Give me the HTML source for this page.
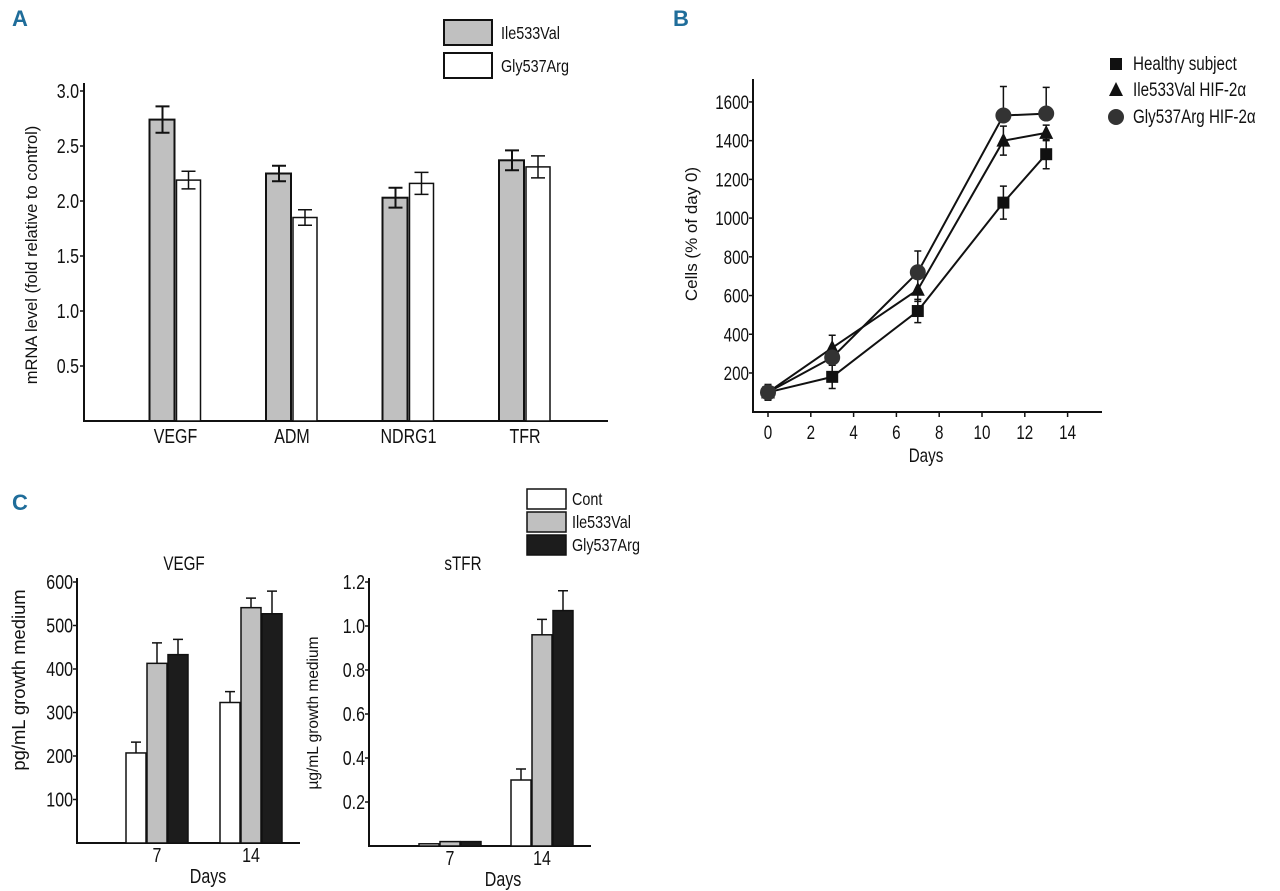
<!DOCTYPE html>
<html><head><meta charset="utf-8"><style>
html,body{margin:0;padding:0;background:#fff;overflow:hidden}
svg{display:block}
text{font-family:"Liberation Sans",sans-serif;fill:#111}
.pl{font-family:"Liberation Sans",sans-serif;font-weight:bold;fill:#1f6d9a;font-size:22px}
</style></head><body>
<svg id="fig" width="1280" height="891" viewBox="0 0 1280 891"></svg>
<script>
// Panel A data
const aCats = ["VEGF","ADM","NDRG1","TFR"];
const aIle = [2.74,2.25,2.03,2.37];
const aIleErr = [0.12,0.07,0.09,0.09];
const aGly = [2.19,1.85,2.16,2.31];
const aGlyErr = [0.08,0.07,0.10,0.10];
const aTicks = [0.5,1.0,1.5,2.0,2.5,3.0];
// Panel B data
const bDays = [0,3,7,11,13];
const bHealthy = [100,180,520,1080,1330];
const bHealthyErr = [40,60,60,85,75];
const bIle = [100,330,630,1400,1440];
const bIleErr = [40,65,60,75,40];
const bGly = [100,280,720,1530,1540];
const bGlyErr = [40,50,110,150,135];
const bXTicks = [0,2,4,6,8,10,12,14];
const bYTicks = [200,400,600,800,1000,1200,1400,1600];
// Panel C data
const cDays = ["7","14"];
const cVegfCont = [207,323];
const cVegfIle = [413,541];
const cVegfGly = [433,527];
const cVegfContErr = [25,25];
const cVegfIleErr = [47,22];
const cVegfGlyErr = [35,52];
const cVegfTicks = [100,200,300,400,500,600];
const cTfrCont = [0.01,0.30];
const cTfrIle = [0.02,0.96];
const cTfrGly = [0.02,1.07];
const cTfrContErr = [0,0.05];
const cTfrIleErr = [0,0.07];
const cTfrGlyErr = [0,0.09];
const cTfrTicks = ["0.2","0.4","0.6","0.8","1.0","1.2"];

const svg = document.getElementById('fig');
const NS = 'http://www.w3.org/2000/svg';
const SX = 0.8;
function mk(tag, attrs, parent, txt){
  const e = document.createElementNS(NS, tag);
  for (const k in attrs) e.setAttribute(k, attrs[k]);
  if (txt !== undefined) e.textContent = txt;
  (parent || svg).appendChild(e);
  return e;
}
function grp(name){
  const g = mk('g', {});
  
  
  return g;
}
function label(g, x, y, s, size, anchor, name, rot){
  const t = mk('text', {x:x, y:y, 'font-size':size, 'text-anchor':anchor||'middle'}, g, s);
  if (rot) t.setAttribute('transform', 'rotate(-90 '+x+' '+y+')');
  else t.setAttribute('transform', 'translate('+x+' '+y+') scale('+SX+' 1) translate('+(-x)+' '+(-y)+')');
  
  
  return t;
}
function errbar(g, x, yTop, yBot, cap, w, name, both){
  let d = 'M'+x+' '+yTop+'V'+yBot+'M'+(x-cap)+' '+yTop+'h'+(2*cap);
  if (both) d += 'M'+(x-cap)+' '+yBot+'h'+(2*cap);
  const p = mk('path', {d:d, stroke:'#111', 'stroke-width':w, fill:'none'}, g);
  
  
}

// ---------- Panel A ----------
(function(){
  const g = grp('panel-a');
  const A = mk('text', {x:12, y:26, class:'pl'}, g, 'A');
   
  const x0 = 84, y0 = 421, x1 = 608;
  const ys = v => y0 - v * 110;
  const cx = i => 175.5 + i * 116.5;
  const ax = mk('path', {d:'M'+x0+' 83V'+y0+'H'+x1, stroke:'#111','stroke-width':2,fill:'none'}, g);
  
  
  aTicks.forEach(t => {
    mk('line', {x1:x0-4, x2:x0, y1:ys(t), y2:ys(t), stroke:'#111','stroke-width':1.5}, g);
    label(g, x0-5, ys(t)+7, t.toFixed(1), 20, 'end', 'a-y-tick');
  });
  label(g, 37, 255, 'mRNA level (fold relative to control)', 16.5, 'middle', 'a-y-axis-title', true);
  aCats.forEach((c, i) => {
    const xc = cx(i);
    const r1 = mk('rect', {x:xc-26, y:ys(aIle[i]), width:25, height:y0-ys(aIle[i]), fill:'#c0c0c0', stroke:'#111','stroke-width':2}, g);
    
    
    const r2 = mk('rect', {x:xc+1, y:ys(aGly[i]), width:24, height:y0-ys(aGly[i]), fill:'#fff', stroke:'#111','stroke-width':1.5}, g);
    
    
    errbar(g, xc-13, ys(aIle[i]+aIleErr[i]), ys(aIle[i]-aIleErr[i]), 7, 2, 'error-bar', true);
    errbar(g, xc+13, ys(aGly[i]+aGlyErr[i]), ys(aGly[i]-aGlyErr[i]), 7, 1.5, 'error-bar', true);
    label(g, xc, 443, c, 20, 'middle', 'a-x-label');
  });
  const l1 = mk('rect', {x:444, y:20, width:48, height:25, fill:'#c0c0c0', stroke:'#111','stroke-width':2}, g);
   
  const l2 = mk('rect', {x:444, y:53, width:48, height:25, fill:'#fff', stroke:'#111','stroke-width':2}, g);
   
  label(g, 501, 39, 'Ile533Val', 18, 'start', 'legend-entry');
  label(g, 501, 72, 'Gly537Arg', 18, 'start', 'legend-entry');
})();

// ---------- Panel B ----------
(function(){
  const g = grp('panel-b');
  const B = mk('text', {x:673, y:26, class:'pl'}, g, 'B');
   
  const x0 = 753, y0 = 412, x1 = 1102;
  const xs = d => 768 + d * 21.4;
  const ys = v => 411.7 - v * 0.1936;
  const ax = mk('path', {d:'M'+x0+' 79V'+y0+'H'+x1, stroke:'#111','stroke-width':2,fill:'none'}, g);
   
  bYTicks.forEach(t => {
    mk('line', {x1:x0-4, x2:x0, y1:ys(t), y2:ys(t), stroke:'#111','stroke-width':1.5}, g);
    label(g, x0-4, ys(t)+7, String(t), 19, 'end', 'b-y-tick');
  });
  bXTicks.forEach(t => {
    mk('line', {x1:xs(t), x2:xs(t), y1:y0, y2:y0+5, stroke:'#111','stroke-width':1.5}, g);
    label(g, xs(t), 439, String(t), 19, 'middle', 'b-x-tick');
  });
  label(g, 926, 462, 'Days', 19, 'middle', 'b-x-axis-title');
  label(g, 697, 234, 'Cells (% of day 0)', 17, 'middle', 'b-y-axis-title', true);
  const series = [
    {n:'healthy', v:bHealthy, e:bHealthyErr, m:'sq'},
    {n:'ile533val', v:bIle, e:bIleErr, m:'tri'},
    {n:'gly537arg', v:bGly, e:bGlyErr, m:'cir'}
  ];
  series.forEach(s => {
    s.v.forEach((v, i) => {
      const up = s.n==='gly537arg';
      errbar(g, xs(bDays[i]), ys(v + s.e[i]), up ? ys(v) : ys(v - s.e[i]), 3.5, 1.5, 'error-bar', !up);
    });
  });
  series.forEach(s => {
    const pts = s.v.map((v,i) => xs(bDays[i]).toFixed(1)+','+ys(v).toFixed(1)).join(' ');
    const pl = mk('polyline', {points:pts, fill:'none', stroke:'#111','stroke-width':2}, g);
     
  });
  function marker(type, x, y, name, par){
    let e;
    if (type==='sq') e = mk('rect', {x:x-6, y:y-6, width:12, height:12, fill:'#111'}, par);
    else if (type==='tri') e = mk('polygon', {points:(x)+','+(y-8)+' '+(x-7)+','+(y+6)+' '+(x+7)+','+(y+6), fill:'#111'}, par);
    else e = mk('ellipse', {cx:x, cy:y, rx:8, ry:8, fill:'#333'}, par);
     
  }
  series.forEach(s => s.v.forEach((v,i) => marker(s.m, xs(bDays[i]), ys(v), 'point-'+s.n, g)));
  marker('sq', 1116, 64, 'legend-marker-healthy', g);
  marker('tri', 1116, 90, 'legend-marker-ile533val', g);
  marker('cir', 1116, 117, 'legend-marker-gly537arg', g);
  label(g, 1133, 70, 'Healthy subject', 19, 'start', 'legend-entry');
  label(g, 1133, 96, 'Ile533Val HIF-2α', 19, 'start', 'legend-entry');
  label(g, 1133, 123, 'Gly537Arg HIF-2α', 19, 'start', 'legend-entry');
})();

// ---------- Panel C ----------
(function(){
  const g = grp('panel-c');
  const C = mk('text', {x:12, y:510, class:'pl'}, g, 'C');
   
  const fills = ['#fff','#c0c0c0','#1c1c1c'];
  const names = ['cont','ile533val','gly537arg'];
  function chart(opt){
    const sg = mk('g', {}, g);
     
    const ax = mk('path', {d:'M'+opt.x0+' '+opt.top+'V'+opt.y0+'H'+opt.x1, stroke:'#111','stroke-width':2,fill:'none'}, sg);
     
    opt.ticks.forEach(t => {
      const v = parseFloat(t);
      mk('line', {x1:opt.x0-4, x2:opt.x0, y1:opt.ys(v), y2:opt.ys(v), stroke:'#111','stroke-width':1.5}, sg);
      label(sg, opt.x0-4, opt.ys(v)+7, String(t), 20, 'end', 'y-tick');
    });
    label(sg, opt.title[1], 570, opt.title[0], 19, 'middle', 'chart-title');
    label(sg, opt.ylab[1], opt.ylab[2], opt.ylab[0], opt.ylab[3], 'middle', 'y-axis-title', true);
    cDays.forEach((d, i) => {
      const xc = opt.cx[i];
      [opt.c, opt.iv, opt.gv].forEach((arr, k) => {
        const x = xc - 31 + k*21;
        const y = opt.ys(arr[i]);
        const r = mk('rect', {x:x, y:y, width:20, height:Math.max(opt.y0-y,1), fill:fills[k], stroke:'#111','stroke-width':1.5}, sg);
         
        const e = [opt.ce, opt.ie, opt.ge][k][i];
        if (e > 0) errbar(sg, x+10, opt.ys(arr[i]+e), y, 5, 1.5, 'error-bar', false);
      });
      label(sg, xc, opt.y0+19, d, 20, 'middle', 'x-tick');
    });
    label(sg, opt.days, opt.y0+40, 'Days', 20, 'middle', 'x-axis-title');
  }
  chart({name:'vegf-chart', x0:77, x1:300, y0:843, top:578, ys:v=>843-v*0.435, ticks:cVegfTicks,
    cx:[157,251], c:cVegfCont, iv:cVegfIle, gv:cVegfGly, ce:cVegfContErr, ie:cVegfIleErr, ge:cVegfGlyErr,
    title:['VEGF',184], ylab:['pg/mL growth medium',25,680,18.4], days:208});
  chart({name:'stfr-chart', x0:369, x1:591, y0:846, top:578, ys:v=>846-v*220, ticks:cTfrTicks,
    cx:[450,542], c:cTfrCont, iv:cTfrIle, gv:cTfrGly, ce:cTfrContErr, ie:cTfrIleErr, ge:cTfrGlyErr,
    title:['sTFR',463], ylab:['µg/mL growth medium',318,713,15.5], days:503});
  [[489,20],[512,20],[535,20]].forEach((p,k) => {
    const r = mk('rect', {x:527, y:p[0], width:39, height:p[1], fill:fills[k], stroke:'#111','stroke-width':1.5}, g);
     
  });
  label(g, 572, 505, 'Cont', 18, 'start', 'legend-entry');
  label(g, 572, 528, 'Ile533Val', 18, 'start', 'legend-entry');
  label(g, 572, 551, 'Gly537Arg', 18, 'start', 'legend-entry');
})();
</script>
</body></html>
